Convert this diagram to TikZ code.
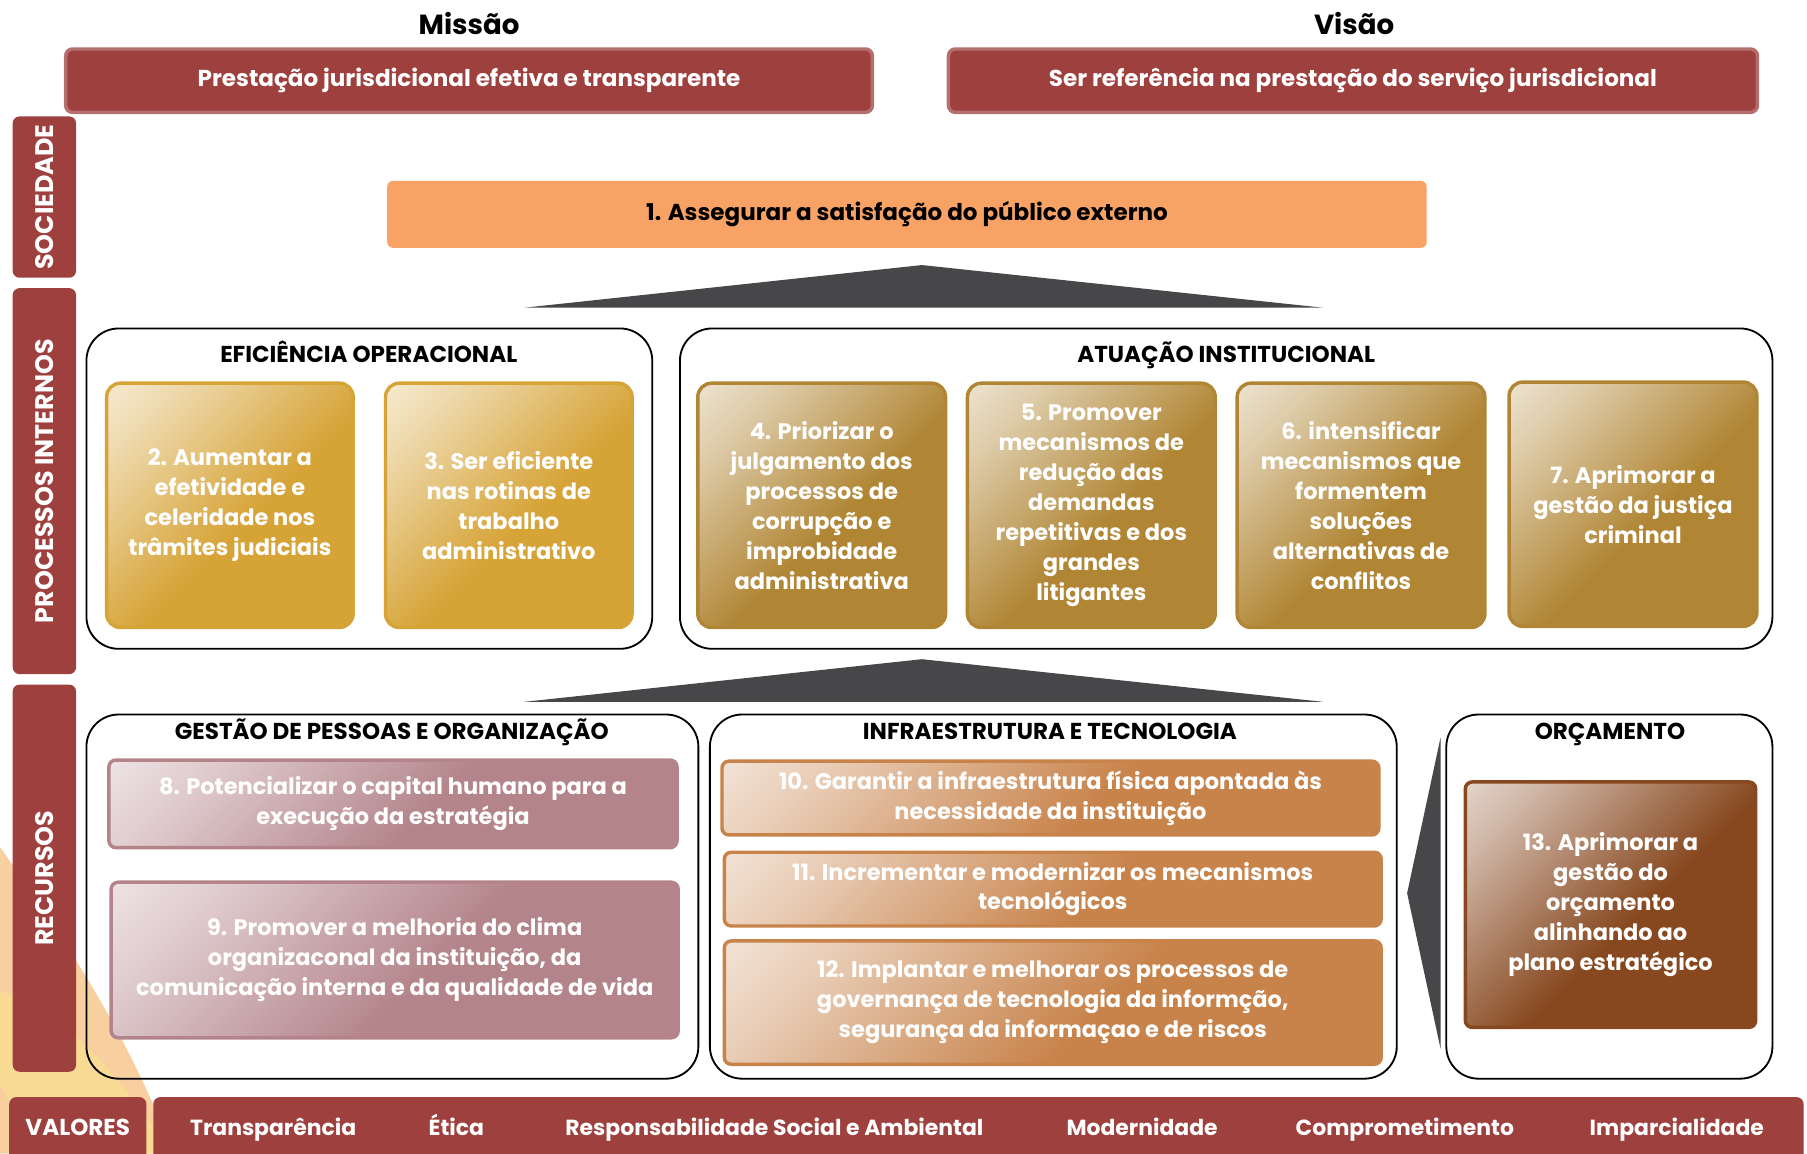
\documentclass[tikz,border=0pt]{standalone}
\usepackage{fontspec}
\setmainfont{Poppins}
\definecolor{vinho}{RGB}{158,64,61}
\definecolor{vinhoclaro}{RGB}{180,112,110}
\definecolor{laranja}{RGB}{248,162,102}
\definecolor{chumbo}{RGB}{71,71,74}
\definecolor{ouro}{RGB}{214,163,54}
\definecolor{ourovelho}{RGB}{176,133,51}
\definecolor{malva}{RGB}{179,132,138}
\definecolor{cobre}{RGB}{200,131,75}
\definecolor{marrom}{RGB}{135,72,31}
\definecolor{sol}{RGB}{245,192,127}
\definecolor{solclaro}{RGB}{248,218,149}
\colorlet{fundo}{ouro}
\colorlet{fundoclaro}{ouro!40!white}
\pgfdeclareverticalshading[fundo,fundoclaro]{brilho}{100bp}{color(0bp)=(fundo); color(45bp)=(fundo); color(75bp)=(fundoclaro); color(100bp)=(white)}

\begin{document}
\begin{tikzpicture}[x=1pt,y=-1pt,
  faixa/.style={fill=vinho,rounded corners=6pt,text=white,font=\fontsize{22}{26}\selectfont\bfseries},
  topo/.style={fill=vinho,draw=vinhoclaro,line width=3pt,rounded corners=6pt,text=white,minimum height=55pt,font=\fontsize{20}{24}\selectfont\bfseries},
  quadro/.style={draw=black,line width=1.6pt,rounded corners=28pt},
  titulo/.style={text height=15pt,text depth=4pt,font=\fontsize{20}{24}\selectfont\bfseries},
  obj/.style={draw=#1,line width=3pt,rounded corners=12pt,/utils/exec={\colorlet{fundo}{#1}\colorlet{fundoclaro}{#1!40!white}},shade,shading=brilho,shading angle=45,text=white,align=center,font=\fontsize{19.5}{26}\selectfont\bfseries},
  valor/.style={text=white,text height=15pt,text depth=4pt,font=\fontsize{19}{24}\selectfont\bfseries}]
\useasboundingbox (0,0) rectangle (1568,1001);

\fill[sol,opacity=.75] (0,735) .. controls (60,820) and (115,905) .. (150,1001) -- (0,1001) -- cycle;
\fill[solclaro] (0,860) .. controls (60,880) and (100,930) .. (150,1001) -- (20,1001) .. controls (10,960) .. (0,940) -- cycle;

\node[font=\fontsize{24}{28}\selectfont\bfseries] (missao) at (407,20) {Missão};
\node[font=\fontsize{24}{28}\selectfont\bfseries] (visao) at (1175,20) {Visão};
\node[topo,minimum width=700pt] (tmissao) at (407,70) {Prestação jurisdicional efetiva e transparente};
\node[topo,minimum width=702pt] (tvisao) at (1174,70) {Ser referência na prestação do serviço jurisdicional};

\node[faixa,rotate=90,minimum width=140pt,minimum height=55pt] (soc) at (38.5,171) {SOCIEDADE};
\node[faixa,rotate=90,minimum width=335pt,minimum height=55pt] (proc) at (38.5,417.5) {PROCESSOS INTERNOS};
\node[faixa,rotate=90,minimum width=336pt,minimum height=55pt] (rec) at (38.5,762) {RECURSOS};

\node[fill=laranja,rounded corners=5pt,minimum width=902pt,minimum height=58pt,font=\fontsize{20}{24}\selectfont\bfseries] (o1) at (787,186) {1. Assegurar a satisfação do público externo};

\fill[chumbo] (455,267) -- (800,230) -- (1148,267) -- cycle;
\fill[chumbo] (455,609) -- (800,572) -- (1148,609) -- cycle;
\fill[chumbo] (1250,640) -- (1221,775) -- (1250,910) -- cycle;

\node[quadro,minimum width=491pt,minimum height=278pt] (efic) at (320.5,424) {};
\node[titulo] at (320,309) {EFICIÊNCIA OPERACIONAL};
\node[obj=ouro,minimum width=214pt,minimum height=212pt] (o2) at (199.5,438.5) {2. Aumentar a\\efetividade e\\celeridade nos\\trâmites judiciais};
\node[obj=ouro,minimum width=214pt,minimum height=212pt] (o3) at (441.5,438.5) {3. Ser eficiente\\nas rotinas de\\trabalho\\administrativo};

\node[quadro,minimum width=948pt,minimum height=278pt] (atua) at (1064,424) {};
\node[titulo] at (1064,309) {ATUAÇÃO INSTITUCIONAL};
\node[obj=ourovelho,minimum width=215pt,minimum height=212pt] (o4) at (713,438.5) {4. Priorizar o\\julgamento dos\\processos de\\corrupção e\\improbidade\\administrativa};
\node[obj=ourovelho,minimum width=215pt,minimum height=212pt] (o5) at (947,438.5) {5. Promover\\mecanismos de\\redução das\\demandas\\repetitivas e dos\\grandes\\litigantes};
\node[obj=ourovelho,minimum width=215pt,minimum height=212pt] (o6) at (1181,438.5) {6. intensificar\\mecanismos que\\formentem\\soluções\\alternativas de\\conflitos};
\node[obj=ourovelho,minimum width=215pt,minimum height=212pt] (o7) at (1417,437.5) {7. Aprimorar a\\gestão da justiça\\criminal};

\node[quadro,minimum width=531pt,minimum height=316pt] (pess) at (340.5,778) {};
\node[titulo] at (340,636) {GESTÃO DE PESSOAS E ORGANIZAÇÃO};
\node[obj=malva,rounded corners=6pt,minimum width=493pt,minimum height=76pt] (o8) at (341,697.5) {8. Potencializar o capital humano para a\\execução da estratégia};
\node[obj=malva,rounded corners=6pt,minimum width=492pt,minimum height=135pt] (o9) at (342.5,833) {9. Promover a melhoria do clima\\organizaconal da instituição, da\\comunicação interna e da qualidade de vida};

\node[quadro,minimum width=596pt,minimum height=316pt] (infra) at (914,778) {};
\node[titulo] at (911,636) {INFRAESTRUTURA E TECNOLOGIA};
\node[obj=cobre,rounded corners=6pt,minimum width=570pt,minimum height=64pt] (o10) at (911.5,692.5) {10. Garantir a infraestrutura física apontada às\\necessidade da instituição};
\node[obj=cobre,rounded corners=6pt,minimum width=570pt,minimum height=64pt] (o11) at (913.5,771.5) {11. Incrementar e modernizar os mecanismos\\tecnológicos};
\node[obj=cobre,rounded corners=6pt,minimum width=570pt,minimum height=107pt] (o12) at (913.5,870) {12. Implantar e melhorar os processos de\\governança de tecnologia da informção,\\segurança da informaçao e de riscos};

\node[quadro,minimum width=283pt,minimum height=316pt] (orc) at (1396.5,778) {};
\node[titulo] at (1397,636) {ORÇAMENTO};
\node[obj=marrom,rounded corners=6pt,minimum width=252pt,minimum height=213pt] (o13) at (1397.5,785) {13. Aprimorar a\\gestão do\\orçamento\\alinhando ao\\plano estratégico};

\node[faixa,minimum width=119pt,minimum height=66pt] (rotulo) at (67.5,985) {};
\node[valor,font=\fontsize{20}{24}\selectfont\bfseries] at (67.5,980) {VALORES};
\node[faixa,minimum width=1432pt,minimum height=66pt] (valores) at (849,985) {};
\foreach \x/\t in {237/Transparência,396/Ética,672/Responsabilidade Social e Ambiental,991/Modernidade,1219/Comprometimento,1455/Imparcialidade}
  \node[valor] at (\x,980) {\t};

\end{tikzpicture}
\end{document}
